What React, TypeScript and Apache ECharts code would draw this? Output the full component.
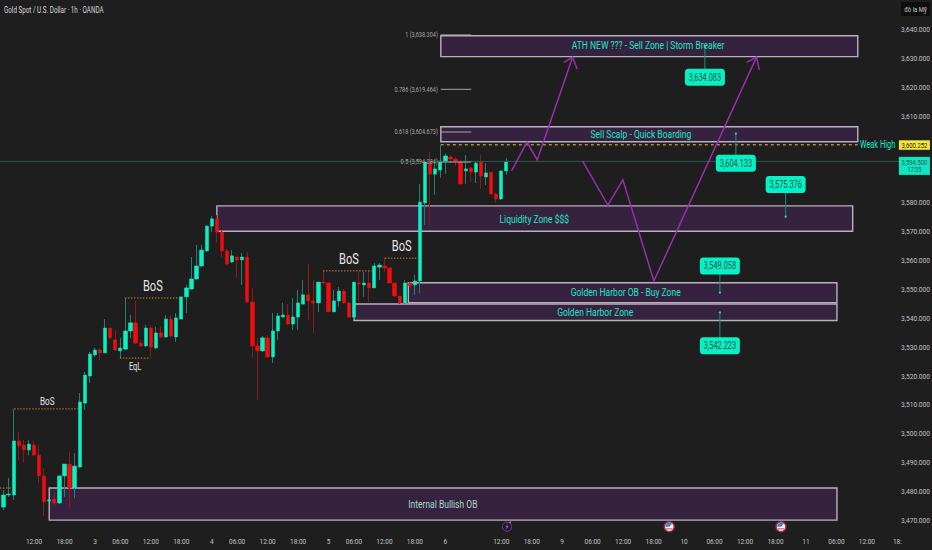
import React, { useEffect, useRef } from "react";
import * as echarts from "echarts";

const FONT = "Roboto,sans-serif";
const NARROW = 0.74;

const title = "Gold Spot / U.S. Dollar · 1h · OANDA";

const opens = [3474.8,3479.0,3479.0,3497.7,3496.3,3494.6,3496.3,3492.8,3485.6,3476.9,
3477.6,3476.2,3485.6,3489.7,3481.4,3488.7,3510.8,3520.2,3527.5,3529.2,
3528.2,3536.8,3532.7,3528.9,3529.5,3535.8,3538.6,3531.6,3530.6,3536.8,
3529.9,3535.1,3533.7,3539.9,3533.7,3539.9,3547.6,3550.3,3553.8,3558.3,
3563.5,3572.1,3574.6,3570.0,3563.5,3559.7,3561.4,3560.4,3561.4,3545.8,
3530.6,3528.9,3533.4,3526.8,3535.8,3540.6,3541.3,3538.2,3540.6,3545.1,
3548.3,3546.2,3545.5,3552.7,3552.4,3542.4,3546.2,3549.6,3545.5,3540.6,
3552.4,3551.7,3552.4,3550.7,3557.9,3558.3,3557.6,3552.4,3547.9,3545.5,
3552.4,3551.7,3553.1,3580.1,3594.3,3590.1,3591.5,3594.6,3596.0,3595.3,
3594.3,3591.2,3592.2,3590.8,3594.3,3589.1,3590.8,3583.2,3581.5,3591.2];
const closes = [3479.0,3479.3,3497.7,3496.0,3494.6,3496.6,3492.8,3485.6,3476.6,3477.3,
3476.2,3485.6,3489.7,3481.4,3489.0,3511.2,3520.5,3527.8,3529.2,3528.2,
3536.8,3533.4,3529.2,3529.9,3535.8,3538.6,3531.6,3530.6,3536.8,3530.2,
3535.1,3533.7,3539.9,3534.0,3540.3,3547.6,3550.7,3553.8,3558.3,3563.8,
3572.1,3574.6,3570.0,3563.5,3559.0,3561.8,3560.4,3561.4,3545.8,3530.6,
3528.9,3533.4,3526.8,3535.8,3541.0,3541.3,3538.2,3540.6,3545.5,3548.3,
3546.2,3545.5,3552.7,3552.4,3542.4,3546.2,3549.6,3545.5,3540.6,3552.7,
3552.0,3552.4,3550.7,3558.3,3558.6,3557.6,3552.4,3547.9,3545.5,3552.4,
3551.4,3553.1,3580.4,3594.3,3590.1,3591.9,3594.6,3596.4,3595.3,3594.3,
3586.7,3591.9,3590.8,3593.9,3589.4,3590.5,3583.2,3581.5,3591.2,3594.5];
const lows = [3473.8,3478.3,3477.3,3491.1,3490.1,3492.8,3492.8,3483.2,3471.7,3476.2,
3475.5,3475.9,3478.3,3474.5,3477.9,3488.3,3508.4,3517.8,3526.8,3525.7,
3528.2,3532.7,3528.9,3526.4,3529.2,3533.4,3531.3,3530.2,3530.2,3526.8,
3529.5,3533.4,3533.4,3533.4,3532.0,3539.9,3542.0,3550.0,3553.4,3557.9,
3563.1,3570.0,3566.3,3561.4,3558.6,3559.3,3554.1,3551.7,3545.8,3526.4,
3511.9,3528.5,3526.4,3524.7,3532.7,3540.6,3537.9,3536.1,3536.1,3544.8,
3539.6,3535.1,3542.4,3551.7,3542.4,3542.4,3544.1,3545.1,3540.3,3539.6,
3545.8,3547.6,3545.8,3550.7,3553.4,3556.2,3552.4,3547.6,3545.1,3545.1,
3550.7,3548.3,3548.9,3572.5,3572.5,3582.9,3588.8,3590.1,3593.9,3592.9,
3586.3,3586.7,3587.4,3587.0,3585.0,3586.3,3582.9,3580.1,3581.1,3589.8];
const highs = [3480.7,3484.9,3508.8,3500.8,3498.0,3498.0,3497.7,3496.3,3488.3,3477.9,
3480.0,3485.6,3489.7,3493.9,3493.5,3514.3,3521.6,3528.5,3529.9,3529.9,
3539.9,3536.8,3536.1,3533.4,3547.2,3541.3,3546.2,3532.7,3537.9,3537.9,
3537.2,3537.2,3541.3,3541.3,3542.0,3547.6,3551.7,3561.4,3565.6,3565.6,
3572.5,3575.6,3575.9,3570.4,3564.2,3563.8,3561.4,3562.8,3563.1,3550.7,
3533.4,3534.0,3534.4,3542.0,3542.0,3545.5,3545.1,3547.2,3550.0,3553.4,
3559.0,3553.4,3552.7,3556.6,3552.7,3550.0,3551.0,3550.3,3545.8,3552.7,
3556.2,3556.2,3556.6,3559.3,3559.3,3561.4,3557.6,3552.4,3547.9,3553.4,
3552.7,3555.2,3586.7,3594.3,3597.8,3594.3,3600.2,3597.4,3596.7,3596.0,
3595.0,3596.7,3592.6,3594.3,3596.7,3593.9,3590.8,3583.6,3591.2,3595.7];

const slotCount = 178;
const tickSlots = [6,12,18,23,29,35,41,46,52,58,64,69,75,81,87,98,104,110,116,122,128,134,140,146,152,158,164,170,176];
const tickLabels = ["12:00","18:00","3","06:00","12:00","18:00","4","06:00","12:00","18:00","5","06:00","12:00","18:00","6","12:00","18:00","9","06:00","12:00","18:00","10","06:00","12:00","18:00","11","06:00","12:00","18:"];
const priceTicks = [3640,3630,3620,3610,3580,3570,3560,3550,3540,3530,3520,3510,3500,3490,3480,3470];

// zones: [first bar, last bar, top price, bottom price]
const zoneLabels = ["ATH NEW ??? - Sell Zone | Storm Breaker","Sell Scalp - Quick Boarding","Liquidity Zone $$$","Golden Harbor OB - Buy Zone","Golden Harbor Zone","Internal Bullish OB"];
const zoneFrom = [86.1,86.1,42.0,79.7,69.0,9.0];
const zoneTo = [168.2,168.2,167.2,164.1,164.1,164.1];
const zoneTop = [3638.0,3606.5,3579.1,3552.5,3545.1,3481.4];
const zoneBottom = [3630.8,3601.3,3570.3,3545.6,3539.4,3470.3];
const zoneTextAt = [126.9,125.5,104.5,122.5,116.5,86.5];
const zoneTextPrice = [3634.7,3603.9,3574.4,3549.2,3542.4,3475.8];

const fibLabels = ["1","0.786","0.618","0.5"];
const fibPrices = [3638.304,3619.464,3604.673,3594.284];

const calloutPrices = [3634.083,3604.133,3575.376,3549.058,3542.223];
const calloutBars = [138.1,144.2,154.0,141.05,141.05];
const calloutBoxPrices = [3623.6,3593.9,3586.5,3558.3,3530.7];

const pathABars = [100.04,103.05,105.08,112.05];
const pathAPrices = [3591.2,3601.2,3595.0,3630.6];
const pathAHeadBars = [110.33,112.05,112.95];
const pathAHeadPrices = [3628.8,3630.6,3626.4];
const pathBBars = [114.0,119.0,121.95,128.05,148.27];
const pathBPrices = [3594.7,3579.4,3588.1,3553.1,3630.6];
const pathBHeadBars = [146.3,148.27,148.8];
const pathBHeadPrices = [3628.8,3630.6,3626.2];

const dotFrom = [-0.7,2.1,23.9,22.9,62.9,75.1];
const dotTo = [2.1,14.7,34.7,28.9,72.5,81.6];
const dotPrices = [3481.4,3508.8,3547.2,3526.4,3556.6,3561.0];

const markLabels = ["BoS","BoS","EqL","BoS","BoS"];
const markBars = [8.6,29.4,25.9,68.0,78.4];
const markPrices = [3511.6,3551.4,3523.3,3560.7,3565.2];
const markSizes = [11,15,10,15,15];

const weakHighPrice = 3600.252;
const lastPrice = 3594.5;
const countdown = "17:35";

const money = (v: number) =>
  v.toLocaleString("en-US", { minimumFractionDigits: 3, maximumFractionDigits: 3 });

const UP = "#0df0c2";
const DOWN = "#f00d0d";
const MINT = "#1fe6c6";

const txt = (text: string, x: number, y: number, size: number, fill: string, align = "center", z?: number) => ({
  type: "text",
  x,
  y,
  scaleX: NARROW,
  ...(z !== undefined ? { z } : {}),
  style: { text, x: 0, y: 0, fill, font: `${size}px ${FONT}`, textAlign: align, textVerticalAlign: "middle" },
});

function makeOption() {
  const categories = Array.from({ length: slotCount }, (_, i) => {
    const k = tickSlots.indexOf(i);
    return k >= 0 ? tickLabels[k] : "";
  });

  const overlay = (z: number, build: (P: (b: number, p: number) => number[]) => any[]) => ({
    type: "custom",
    z,
    silent: true,
    clip: false,
    data: [[0, 3500]],
    renderItem: (_p: any, api: any) => {
      const band = api.size([1, 0])[0];
      const P = (b: number, p: number) => {
        const c = api.coord([0, p]);
        return [c[0] + b * band, c[1]];
      };
      return { type: "group", children: build(P) };
    },
  });

  const zones = overlay(1, (P) =>
    zoneLabels.map((_, i) => {
      const a = P(zoneFrom[i], zoneTop[i]);
      const b = P(zoneTo[i], zoneBottom[i]);
      return {
        type: "rect",
        shape: { x: a[0], y: a[1], width: b[0] - a[0], height: b[1] - a[1] },
        style: { fill: "#35223f", stroke: "#b9b0bd", lineWidth: 1.4 },
      };
    })
  );

  const lines = overlay(4, (P) => {
    const out: any[] = [];
    const last0 = P(0, lastPrice);
    const last1 = P(176.3, lastPrice);
    out.push({ type: "line", shape: { x1: 0, y1: last0[1], x2: last1[0], y2: last1[1] }, style: { stroke: "#2f5a50", lineWidth: 1 } });
    const w0 = P(86.1, weakHighPrice);
    const w1 = P(168.2, weakHighPrice);
    out.push({ type: "line", shape: { x1: w0[0], y1: w0[1], x2: w1[0], y2: w1[1] }, style: { stroke: "#e0c65a", lineWidth: 1, lineDash: [3, 3] } });
    dotPrices.forEach((p, i) => {
      const a = P(dotFrom[i], p);
      const b = P(dotTo[i], p);
      out.push({ type: "line", shape: { x1: a[0], y1: a[1], x2: b[0], y2: b[1] }, style: { stroke: "#b98a2e", lineWidth: 1, lineDash: [1.5, 1.5] } });
    });
    fibPrices.forEach((p, i) => {
      const a = P(86.1, p);
      const b = P(92.1, p);
      out.push({ type: "line", shape: { x1: a[0], y1: a[1], x2: b[0], y2: b[1] }, style: { stroke: "#a9a4ab", lineWidth: 1 } });
      out.push(txt(`${fibLabels[i]} (${money(p)})`, a[0] - 3, a[1], 7.5, "#a8a8a8", "right"));
    });
    return out;
  });

  const paths = overlay(5, (P) => {
    const mk = (bs: number[], ps: number[]) => ({
      type: "polyline",
      shape: { points: bs.map((b, i) => P(b, ps[i])) },
      style: { stroke: "#9a2db0", lineWidth: 1.5, fill: "none" },
    });
    return [mk(pathABars, pathAPrices), mk(pathAHeadBars, pathAHeadPrices), mk(pathBBars, pathBPrices), mk(pathBHeadBars, pathBHeadPrices)];
  });

  const texts = overlay(6, (P) => {
    const out: any[] = [];
    zoneLabels.forEach((t, i) => {
      const c = P(zoneTextAt[i], zoneTextPrice[i]);
      out.push(txt(t, c[0], c[1], 11.5, i === 5 ? "#a9d8cf" : MINT));
    });
    markLabels.forEach((t, i) => {
      const c = P(markBars[i], markPrices[i]);
      out.push(txt(t, c[0], c[1], markSizes[i], "#e8e8e8"));
    });
    const w = P(172.1, weakHighPrice);
    out.push(txt("Weak High", w[0], w[1], 10, MINT));
    calloutPrices.forEach((p, i) => {
      const pin = P(calloutBars[i], p);
      const box = P(calloutBars[i], calloutBoxPrices[i]);
      out.push({ type: "line", shape: { x1: pin[0], y1: pin[1], x2: box[0], y2: box[1] }, style: { stroke: "#1d8f80", lineWidth: 1 } });
      out.push({ type: "circle", shape: { cx: pin[0], cy: pin[1], r: 1 }, style: { fill: MINT } });
      out.push({ type: "rect", shape: { x: box[0] - 20, y: box[1] - 8.5, width: 40, height: 17, r: 3.5 }, style: { fill: "#06f0c6" } });
      out.push(txt(money(p), box[0], box[1], 10, "#13564d"));
    });
    const y = P(176.3, weakHighPrice);
    out.push({ type: "rect", shape: { x: y[0], y: y[1] - 4.5, width: 31, height: 9.5 }, style: { fill: "#f5e63a" } });
    out.push(txt(money(weakHighPrice), y[0] + 15.5, y[1] + 0.3, 8, "#222"));
    const l = P(176.3, lastPrice);
    out.push({ type: "rect", shape: { x: l[0], y: l[1] - 4.5, width: 31, height: 18 }, style: { fill: "#0de6c0" } });
    out.push(txt(money(lastPrice), l[0] + 15.5, l[1] + 0.3, 8, "#1a5c52"));
    out.push(txt(countdown, l[0] + 15.5, l[1] + 8.8, 7.5, "#1a5c52"));
    return out;
  });

  const flag = (cx: number) => ({
    type: "group",
    children: [
      { type: "circle", shape: { cx, cy: 526.7, r: 5 }, style: { fill: "#f2f2f2", stroke: "#a8233b", lineWidth: 1.5 } },
      { type: "sector", shape: { cx, cy: 526.7, r: 4, r0: 0, startAngle: Math.PI, endAngle: Math.PI * 1.75 }, style: { fill: "#3f7fd6" } },
      { type: "rect", shape: { x: cx - 3.2, y: 528.4, width: 6.4, height: 1 }, style: { fill: "#d04058" } },
    ],
  });

  return {
    animation: false,
    backgroundColor: "#1e1e1e",
    grid: { left: 1, top: 0, width: 904, height: 530, outerBoundsMode: "none", containLabel: false },
    xAxis: {
      type: "category",
      data: categories,
      boundaryGap: true,
      axisLine: { show: false },
      axisTick: { show: false },
      splitLine: { show: false },
      axisLabel: {
        color: "#c4c4c4",
        fontSize: 6.5,
        fontFamily: FONT,
        margin: 8,
        interval: (i: number) => tickSlots.includes(i),
        hideOverlap: false,
      },
    },
    yAxis: {
      type: "value",
      position: "right",
      min: 3466.87,
      max: 3650.39,
      axisLine: { show: false },
      axisTick: { show: false },
      splitLine: { show: false },
      axisLabel: {
        customValues: priceTicks,
        color: "#c4c4c4",
        fontSize: 6.6,
        fontFamily: FONT,
        align: "center",
        margin: 10.5,
        formatter: (v: number) => money(v),
      },
    },
    series: [
      zones,
      {
        type: "candlestick",
        z: 2,
        silent: true,
        barWidth: 1,
        data: opens.map((o, i) => [o, closes[i], lows[i], highs[i]]),
        itemStyle: { color: "#23806e", color0: "#8a1b1b", borderColor: "#23806e", borderColor0: "#8a1b1b", borderWidth: 1 },
      },
      {
        type: "candlestick",
        z: 3,
        silent: true,
        barWidth: 3.8,
        data: opens.map((o, i) => [o, closes[i], Math.min(o, closes[i]), Math.max(o, closes[i])]),
        itemStyle: { color: UP, color0: DOWN, borderColor: UP, borderColor0: DOWN, borderWidth: 0.5 },
      },
      lines,
      paths,
      texts,
    ],
    graphic: [
      txt(title, 4, 9.8, 8.5, "#d6d6d6", "left", 20),
      { type: "rect", shape: { x: 901, y: 2, width: 29, height: 14, r: 2 }, style: { fill: "#0e0e0e" }, z: 20 },
      txt("đô la Mỹ", 915.5, 9, 8, "#c8c8c8", "center", 21),
      { type: "circle", shape: { cx: 507, cy: 526.7, r: 4.6 }, style: { fill: "#1e1a26", stroke: "#6a3bb0", lineWidth: 1 }, z: 20 },
      { type: "polygon", shape: { points: [[508, 523.5], [505.3, 527.3], [506.8, 527.3], [506, 530], [508.8, 526], [507.2, 526]] }, style: { fill: "#9a50e0" }, z: 21 },
      { type: "circle", shape: { cx: 510, cy: 522.5, r: 1 }, style: { fill: "#f0603a" }, z: 21 },
      { ...flag(669.3), z: 20 },
      { ...flag(781), z: 20 },
    ],
  };
}

export default function App() {
  const ref = useRef<HTMLDivElement>(null);
  useEffect(() => {
    document.body.style.margin = "0";
    document.body.style.background = "#1e1e1e";
    const chart = echarts.init(ref.current!, undefined, { renderer: "svg" });
    chart.setOption(makeOption() as any);
    return () => chart.dispose();
  }, []);
  return <div ref={ref} style={{ width: 932, height: 550, overflow: "hidden" }} />;
}
